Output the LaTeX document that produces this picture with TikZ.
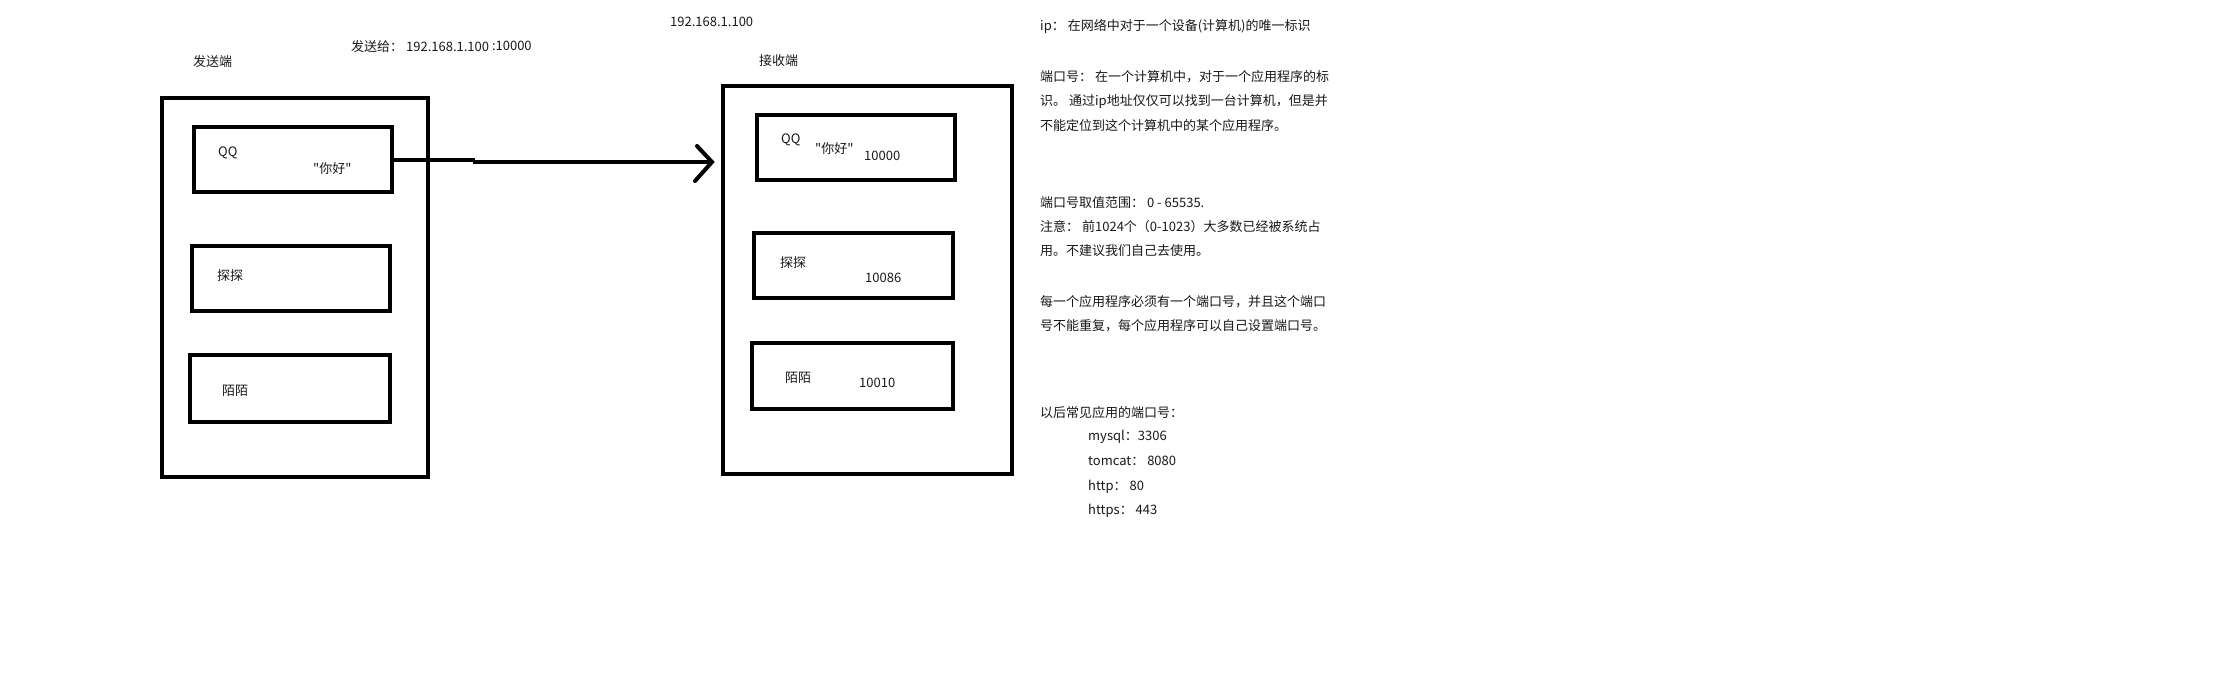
\documentclass[tikz,border=0pt]{standalone}
\usepackage{fontspec}
\newfontfamily\cjk{Noto Sans CJK SC}
\begin{document}
\begin{tikzpicture}[x=1pt,y=-1pt,
  frame/.style={draw, line width=4pt, inner sep=0pt, minimum width=#1},
  lbl/.style={anchor=west, inner sep=0pt, font=\cjk\fontsize{13}{15}\selectfont, text=black!90},
  wire/.style={line width=4pt}]
\useasboundingbox (0,0) rectangle (2220,683);
\fill[white] (0,0) rectangle (2220,683);

% top labels
\node[lbl] (dstip) at (670,22) {192.168.1.100};
\node[lbl] (sendto) at (351,47) {发送给： 192.168.1.100 \raisebox{1.5pt}{:10000}};
\node[lbl] (sendlbl) at (193,62) {发送端};
\node[lbl] (recvlbl) at (759,61) {接收端};

% sender
\node[frame=266pt, minimum height=379pt] (send) at (295,287.5) {};
\node[frame=198pt, minimum height=65pt] (qqs) at (293,159.5) {};
\node[frame=198pt, minimum height=65pt] (tts) at (291,278.5) {};
\node[frame=200pt, minimum height=67pt] (mms) at (290,388.5) {};
\node[lbl] (qqsname) at (218,153) {QQ};
\node[lbl] (qqsmsg) at (313,169) {"你好"};
\node[lbl] (ttsname) at (217,276) {探探};
\node[lbl] (mmsname) at (222,391) {陌陌};

% receiver
\node[frame=289pt, minimum height=388pt] (recv) at (867.5,280) {};
\node[frame=198pt, minimum height=65pt] (qqr) at (856,147.5) {};
\node[frame=199pt, minimum height=65pt] (ttr) at (853.5,265.5) {};
\node[frame=201pt, minimum height=66pt] (mmr) at (852.5,376) {};
\node[lbl] (qqrname) at (781,140) {QQ};
\node[lbl] (qqrmsg) at (815,149) {"你好"};
\node[lbl] (qqrport) at (864,156) {10000};
\node[lbl] (ttrname) at (780,263) {探探};
\node[lbl] (ttrport) at (865,278) {10086};
\node[lbl] (mmrname) at (785,378) {陌陌};
\node[lbl] (mmrport) at (859,383) {10010};

% arrow
\coordinate (jogA) at (475,159.5);
\coordinate (jogB) at (473,162);
\coordinate (tip) at (712,162);
\draw[wire] (qqs.east) -- (jogA);
\draw[wire] (jogB) -- (tip);
\draw[wire, line cap=round, line join=miter] (tip) ++(-15,-16) -- (tip) -- ++(-17,19);

% notes
\node[lbl] (n1) at (1040,26) {ip： 在网络中对于一个设备(计算机)的唯一标识};
\node[lbl] (n2) at (1040,77) {端口号： 在一个计算机中，对于一个应用程序的标};
\node[lbl] (n3) at (1040,101) {识。 通过ip地址仅仅可以找到一台计算机，但是并};
\node[lbl] (n4) at (1040,126) {不能定位到这个计算机中的某个应用程序。};
\node[lbl] (n5) at (1040,203) {端口号取值范围： 0 - 65535.};
\node[lbl] (n6) at (1040,227) {注意： 前1024个（0-1023）大多数已经被系统占};
\node[lbl] (n7) at (1040,251) {用。不建议我们自己去使用。};
\node[lbl] (n8) at (1040,302) {每一个应用程序必须有一个端口号，并且这个端口};
\node[lbl] (n9) at (1040,326) {号不能重复，每个应用程序可以自己设置端口号。};
\node[lbl] (n10) at (1040,413) {以后常见应用的端口号：};
\node[lbl] (p1) at (1088,437) {mysql：3306};
\node[lbl] (p2) at (1088,461) {tomcat： 8080};
\node[lbl] (p3) at (1088,487) {http： 80};
\node[lbl] (p4) at (1088,511) {https： 443};
\end{tikzpicture}
\end{document}
